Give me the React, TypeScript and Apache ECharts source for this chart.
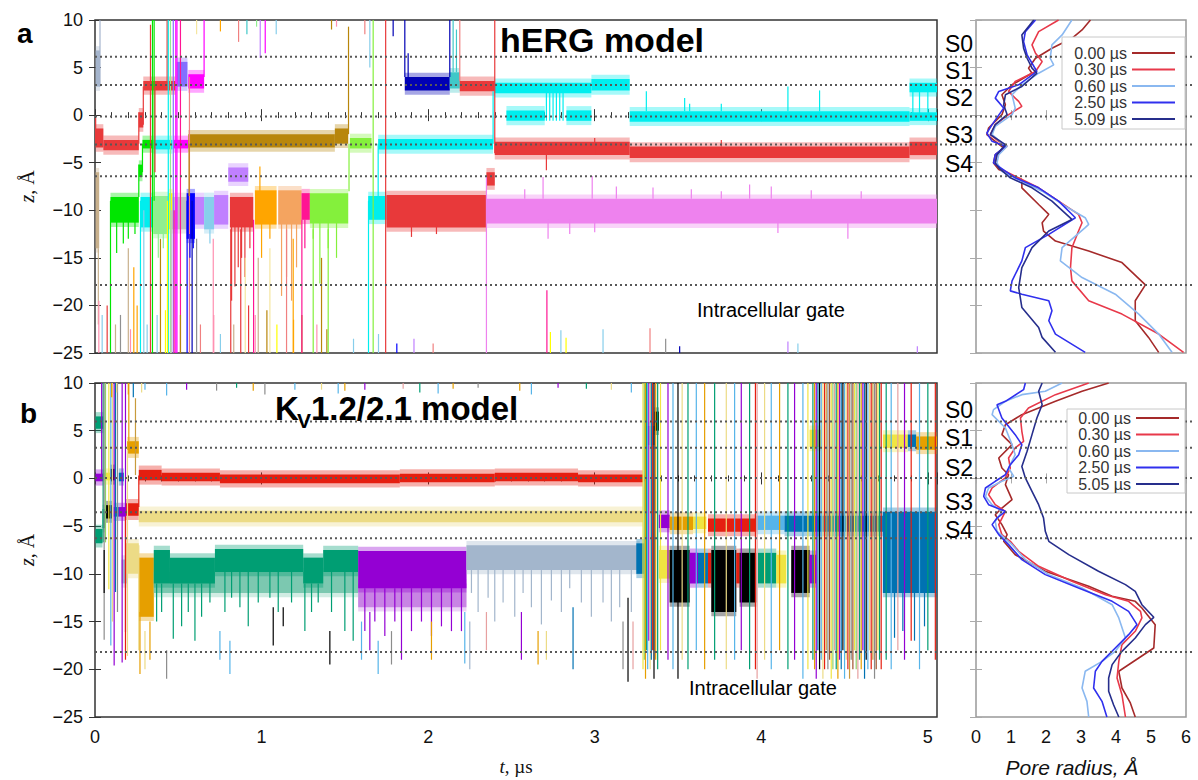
import React, { useEffect, useRef } from 'react';
import * as echarts from 'echarts';

const FONT = '"Liberation Sans", Arial, Helvetica, sans-serif';
const SERIF = '"Liberation Serif", "DejaVu Serif", serif';

// ---------- axes ----------
const T_MAX = 5.055;
const Z_MIN = -25;
const Z_MAX = 10;
const R_MIN = 0;
const R_MAX = 6;

// ---------- site boundaries (dotted lines) ----------
const SITE_LINES_A = [6.14, 3.16, -0.14, -3.08, -6.42, -17.85];
const SITE_LINES_B = [5.97, 3.22, 0.04, -3.55, -6.28, -18.2];
const SITE_NAMES = ['S0', 'S1', 'S2', 'S3', 'S4'];

// ---------- pore radius profiles [r, z] ----------
const LABELS_A = ['0.00 µs', '0.30 µs', '0.60 µs', '2.50 µs', '5.09 µs'];
const LABELS_B = ['0.00 µs', '0.30 µs', '0.60 µs', '2.50 µs', '5.05 µs'];

const PORE_A_000 = [[3.27,10],[3.03,8.95],[2.74,8.08],[2.17,7.03],[1.70,5.98],[1.50,4.94],[1.60,4.41],[1.03,3.19],[0.74,2.14],[0.84,1.09],[0.74,0.05],[0.36,-1.35],[0.31,-2.05],[0.55,-2.75],[0.79,-3.45],[0.55,-4.15],[0.50,-5.02],[0.65,-5.72],[1.31,-6.77],[1.31,-7.64],[1.79,-9.39],[2.08,-10.43],[1.89,-11.31],[1.93,-12.18],[2.27,-13.23],[3.22,-14.28],[4.17,-15.50],[4.84,-17.84],[4.55,-19.51],[4.55,-21.61],[4.93,-23.36],[5.22,-24.93]];
const PORE_A_030 = [[2.36,10],[1.79,8.78],[1.60,7.38],[1.70,6.51],[1.89,5.63],[1.70,4.59],[1.12,3.54],[0.93,2.49],[1.22,1.44],[1.31,0.92],[0.93,0.05],[0.55,-1.00],[0.41,-2.05],[0.65,-2.75],[0.89,-3.27],[0.60,-4.15],[0.55,-5.02],[0.65,-5.54],[1.31,-6.77],[1.79,-7.64],[2.36,-9.04],[2.93,-10.43],[3.03,-11.31],[2.93,-12.18],[2.74,-13.93],[2.70,-16.02],[2.74,-17.42],[3.22,-19.51],[4.17,-20.91],[5.22,-23.01],[5.93,-24.93]];
const PORE_A_060 = [[2.74,10],[2.46,8.43],[2.17,7.38],[2.12,5.98],[2.22,5.28],[1.79,4.41],[1.31,3.19],[1.03,2.14],[1.12,0.74],[1.03,0.05],[0.55,-1.18],[0.46,-2.05],[0.74,-2.92],[0.89,-3.27],[0.65,-4.15],[0.60,-5.02],[0.74,-5.89],[1.31,-6.94],[1.89,-7.99],[2.55,-9.56],[3.12,-10.78],[3.22,-11.48],[3.12,-11.83],[2.46,-13.93],[2.41,-15.32],[3.03,-17.07],[3.98,-18.82],[4.65,-20.91],[5.22,-23.01],[5.60,-24.93]];
const PORE_A_250 = [[1.70,10],[1.41,8.78],[1.36,7.73],[1.46,6.33],[1.74,4.59],[1.22,3.19],[0.65,2.49],[0.55,1.79],[0.79,0.74],[0.46,-1.00],[0.31,-1.88],[0.46,-2.75],[0.84,-3.27],[0.55,-4.15],[0.50,-5.02],[0.84,-5.89],[1.12,-6.59],[1.79,-7.64],[2.36,-9.04],[2.84,-10.78],[2.08,-12.53],[1.41,-13.93],[1.31,-15.32],[1.03,-17.42],[0.98,-18.47],[1.31,-18.82],[2.08,-19.51],[2.17,-20.56],[2.08,-21.61],[2.27,-23.01],[3.12,-24.93]];
const PORE_A_509 = [[1.65,10],[1.31,8.43],[1.36,7.03],[1.46,5.98],[1.60,4.94],[1.74,4.41],[1.31,3.01],[0.84,2.14],[0.79,1.09],[0.89,0.05],[0.55,-1.00],[0.41,-2.05],[0.84,-3.10],[0.60,-4.15],[0.55,-5.02],[0.65,-5.54],[0.98,-6.59],[1.60,-7.64],[2.17,-9.04],[2.74,-10.96],[2.08,-12.18],[1.60,-13.93],[1.31,-16.02],[1.22,-18.12],[1.31,-20.21],[1.79,-22.31],[1.89,-23.36],[2.27,-24.93]];

const PORE_B_000 = [[3.79,10],[3.03,9.13],[2.27,8.08],[1.31,6.68],[0.84,5.63],[0.74,4.59],[1.03,3.54],[0.65,2.14],[0.74,1.09],[0.93,0.39],[0.84,-0.65],[1.03,-2.22],[0.74,-3.10],[0.55,-3.80],[0.74,-4.84],[0.89,-5.89],[0.79,-6.59],[1.12,-7.99],[1.98,-9.73],[3.22,-11.31],[3.89,-12.35],[4.55,-12.88],[4.74,-13.58],[5.12,-15.32],[5.08,-17.77],[4.65,-18.82],[4.08,-20.21],[4.17,-21.96],[4.41,-23.53],[4.55,-25]];
const PORE_B_030 = [[3.22,10],[2.27,8.78],[1.50,7.38],[1.27,6.33],[1.31,4.94],[1.36,3.89],[1.12,3.19],[0.93,2.14],[0.98,1.09],[0.84,0.05],[0.46,-1.00],[0.36,-1.70],[0.55,-2.75],[0.84,-3.45],[0.65,-4.84],[0.74,-5.89],[0.98,-6.59],[1.22,-7.64],[1.79,-9.21],[2.74,-10.78],[3.70,-12.18],[4.36,-12.88],[4.70,-13.93],[4.74,-14.62],[4.55,-16.02],[4.17,-17.42],[4.08,-19.17],[4.03,-20.91],[4.17,-22.66],[4.27,-25]];
const PORE_B_060 = [[2.46,10],[1.98,9.13],[1.31,8.78],[0.84,8.08],[0.50,7.21],[0.46,6.68],[0.84,5.28],[1.03,3.54],[1.12,2.49],[0.93,1.09],[1.08,0.22],[0.74,-0.30],[0.36,-1.00],[0.27,-1.88],[0.46,-2.75],[0.74,-3.45],[0.55,-4.50],[0.60,-5.54],[1.03,-6.94],[1.41,-8.51],[2.08,-10.08],[3.03,-11.48],[3.89,-13.23],[4.08,-14.62],[4.27,-16.72],[3.98,-18.12],[3.60,-19.17],[3.12,-20.21],[3.03,-21.96],[3.17,-23.36],[3.22,-25]];
const PORE_B_250 = [[1.41,10],[1.36,9.30],[0.84,8.08],[0.60,7.73],[0.74,6.33],[1.12,4.59],[1.31,3.54],[1.22,2.49],[0.98,1.44],[0.84,0.39],[0.55,-0.30],[0.27,-1.00],[0.22,-1.88],[0.36,-2.75],[0.84,-3.45],[0.60,-4.15],[0.46,-4.84],[0.65,-5.89],[0.93,-6.94],[1.31,-8.51],[1.98,-10.08],[2.93,-11.48],[3.89,-12.88],[4.36,-13.93],[4.60,-15.32],[4.36,-16.37],[3.98,-17.77],[3.60,-19.17],[3.41,-20.21],[3.36,-21.96],[3.60,-23.36],[3.74,-25]];
const PORE_B_505 = [[1.89,10],[1.79,9.13],[1.89,7.73],[1.74,6.33],[1.60,4.59],[1.46,2.84],[1.31,1.26],[1.41,0.05],[1.60,-1.35],[1.79,-2.75],[1.93,-4.15],[1.98,-5.54],[2.08,-6.59],[2.65,-7.99],[3.50,-9.73],[4.27,-11.13],[4.55,-11.83],[4.74,-13.23],[5.08,-14.55],[4.84,-15.32],[4.55,-16.72],[4.17,-18.12],[3.89,-19.51],[3.79,-20.91],[3.79,-22.31],[3.93,-23.71],[4.08,-25]];

const PORE_COLORS = ['#a52a2a', '#e8394a', '#8ab8f0', '#3030ee', '#262e8c'];

// ---------- colour keys used by the traces ----------
const COLORS: Record<string, string> = {
  red: '#e8393a', cyan: '#00eeee', navy: '#0000b4', violet: '#ee82ee', gold: '#b8860b',
  green: '#00e600', lime: '#84f03c', pgreen: '#90ee90', yellow: '#ffff00', silver: '#c0c0c0',
  blue: '#0000ff', lav: '#c080ff', sky: '#87ceeb', orange: '#ffa500', sandy: '#f4a460',
  dpink: '#ff1493', magenta: '#ff00ff', slate: '#8470ff', tan: '#c8b08c', steel: '#a4b4cc',
  teal: '#40c8c8', salmon: '#f08080', pink: '#ff8fb0', gray: '#909090', lyellow: '#f5e6a0',
  // panel b
  bteal: '#009e73', btealL: '#7cc8b0', borange: '#e69f00', khaki: '#ecdb86', byellow: '#f0e442',
  purple: '#9400d3', purpleL: '#c884e4', gblue: '#a3b6cc', bred: '#e51e10', black: '#000000',
  bblue: '#0072b2', lblue: '#56b4e9', lgreen: '#8fd16a', bgray: '#8c8c8c', bpink: '#e7a0a0',
  brown: '#a0522d', bgold: '#c89b3c',
};

// ---------- panel a: ion z(t) traces ----------
// bands: [colour, t1, t2, zLow, zHigh]
const BANDS_A: [string, number, number, number, number][] = [
  ['steel',0.004,0.030,3.0,6.8], ['tan',0.004,0.025,-14.0,-6.0],
  ['red',0.004,0.050,-3.4,-1.4], ['red',0.050,0.263,-3.7,-2.6],
  ['green',0.093,0.263,-11.3,-8.6], ['red',0.263,0.290,-1.3,0.3],
  ['green',0.263,0.285,-6.5,-5.2], ['green',0.285,0.350,-3.5,-2.6],
  ['cyan',0.273,0.350,-11.8,-8.6], ['red',0.290,0.483,2.6,3.6],
  ['pgreen',0.350,0.440,-12.5,-8.5], ['cyan',0.350,0.465,-3.6,-2.6],
  ['yellow',0.440,0.465,-12.0,-8.2], ['silver',0.465,0.550,-12.0,-8.6],
  ['magenta',0.470,0.560,-3.5,-2.6], ['slate',0.490,0.555,3.0,5.6],
  ['blue',0.550,0.600,-13.0,-8.2], ['magenta',0.560,0.655,2.8,4.3],
  ['gold',0.560,1.440,-3.4,-2.0], ['lav',0.600,0.655,-11.5,-8.6],
  ['sky',0.655,0.715,-12.0,-8.6], ['lav',0.715,0.800,-11.5,-8.4],
  ['lav',0.800,0.920,-7.0,-5.5], ['red',0.810,0.950,-11.8,-8.6],
  ['orange',0.960,1.090,-11.5,-7.9], ['sandy',1.100,1.240,-11.5,-7.9],
  ['dpink',1.240,1.290,-11.0,-8.2], ['lime',1.290,1.520,-11.4,-8.2],
  ['gold',1.440,1.520,-3.0,-1.4], ['lime',1.530,1.660,-3.5,-2.4],
  ['cyan',1.640,1.750,-11.0,-8.5], ['cyan',1.700,2.390,-3.6,-2.5],
  ['red',1.750,2.350,-11.8,-8.4], ['navy',1.860,2.130,2.6,4.0],
  ['teal',2.130,2.190,2.8,4.5], ['red',2.190,2.400,2.5,3.6],
  ['red',2.350,2.400,-7.4,-6.0], ['violet',2.350,5.055,-11.4,-8.8],
  ['cyan',2.400,2.980,2.3,3.4], ['cyan',2.470,2.700,-0.6,0.5], ['cyan',2.830,2.980,-0.6,0.5],
  ['red',2.400,3.210,-4.2,-2.8], ['cyan',2.980,3.210,2.6,3.8],
  ['cyan',3.210,4.890,-0.7,0.4], ['red',3.210,4.890,-4.5,-3.3],
  ['cyan',4.890,5.055,2.4,3.4], ['cyan',4.890,5.055,-0.6,0.3], ['red',4.890,5.055,-4.2,-2.8],
];

// vertical strokes: [colour, t, z1, z2]
const SEGS_A: [string, number, number, number][] = [
  ['red',0.004,-3.0,-0.3], ['steel',0.030,3.0,10], ['tan',0.020,-22,-14],
  ['red',0.263,-3.0,0.3], ['red',0.290,-1.0,3.0], ['green',0.263,-8.6,-5.2], ['green',0.285,-6.0,-3.0],
  ['red',0.333,-25,9.5], ['green',0.345,-25,10], ['green',0.355,-9,10], ['red',0.360,-6,3],
  ['red',0.433,3,10], ['cyan',0.440,-25,10], ['pgreen',0.453,-25,10], ['slate',0.470,-25,10],
  ['magenta',0.485,-25,10], ['magenta',0.492,-25,10], ['dpink',0.513,-25,10], ['salmon',0.567,-25,4],
  ['gold',0.565,-8.5,-3], ['magenta',0.655,4,10], ['gold',1.522,-2,9.3], ['lime',1.525,-8,-3],
  ['cyan',1.642,-25,-9], ['sky',1.650,5,10], ['lime',1.670,-25,10], ['cyan',1.700,-9,-3],
  ['red',1.745,-25,10], ['navy',1.790,8.3,10], ['navy',1.860,4,10], ['navy',1.880,4,6.5],
  ['navy',2.130,4,10], ['teal',2.150,4.5,10], ['teal',2.170,4.5,9], ['salmon',2.190,3.6,10],
  ['violet',2.350,-25,-6.5], ['red',2.400,-4,10], ['cyan',2.390,-3,2.5],
  // short strokes from the top
  ['orange',0.753,8.8,10], ['salmon',0.862,7.7,10], ['teal',0.912,8.5,10], ['pgreen',0.970,9.3,10],
  ['lav',0.992,6.0,10], ['magenta',1.022,6.5,10], ['sky',1.088,8.5,10], ['lyellow',0.610,8.5,10],
  ['gold',1.420,9,10], ['pink',1.450,9.3,10], ['salmon',1.620,8.5,10],
  // excursions out of the bands
  ['green',0.13,-14.5,-11], ['green',0.17,-13.5,-11], ['green',0.20,-13,-11], ['green',0.24,-12.5,-11],
  ['pgreen',0.38,-15,-12], ['pgreen',0.41,-14,-12], ['blue',0.57,-15,-12.5], ['blue',0.59,-14,-12.5],
  ['sky',0.69,-13.5,-12], ['red',0.82,-19.5,-11.5], ['red',0.84,-18,-11.5], ['red',0.86,-16,-11.5],
  ['red',0.88,-15,-11.5], ['red',0.90,-17,-11.5], ['red',0.93,-14,-11.5],
  ['orange',1.00,-15,-11], ['orange',1.05,-13,-11], ['orange',0.99,-5.4,-8],
  ['sandy',1.12,-19,-11], ['sandy',1.15,-17,-11], ['sandy',1.18,-19.5,-11], ['sandy',1.21,-16,-11],
  ['dpink',1.26,-14,-11], ['lime',1.31,-13,-11], ['lime',1.35,-17.7,-11], ['lime',1.40,-14,-11], ['lime',1.45,-15,-11],
  ['red',1.90,-12.8,-11.5], ['red',2.05,-12.5,-11.5],
  ['violet',2.69,-6.5,-8.8], ['violet',2.985,-6.4,-8.8], ['violet',3.13,-7.5,-8.8], ['violet',3.58,-7.8,-8.8],
  ['violet',3.93,-7.3,-8.8], ['violet',4.06,-7.5,-8.8], ['violet',3.76,-8.0,-8.8], ['violet',2.58,-7.8,-8.8],
  ['violet',3.35,-7.6,-8.8], ['violet',4.30,-7.9,-8.8], ['violet',4.60,-8.0,-8.8],
  ['violet',2.72,-13,-11], ['violet',2.85,-12.5,-11], ['violet',4.52,-13,-11], ['violet',3.00,-12.3,-11], ['violet',4.10,-12.4,-11],
  ['cyan',3.31,0.4,2.5], ['cyan',3.54,0.4,1.8], ['cyan',3.57,0.4,1.2], ['cyan',3.76,0.4,1.2], ['cyan',4.16,0.4,3.0], ['cyan',4.35,0.4,2.6],
  ['red',2.71,-5.8,-4], ['red',3.76,-3.3,-2.6], ['red',3.00,-4.2,-2.4],
  ['cyan',2.71,-0.6,2.8], ['cyan',2.73,-0.6,2.8], ['cyan',2.75,-0.6,2.8], ['cyan',2.77,-0.6,2.8],
  ['cyan',2.79,-0.6,2.8], ['cyan',2.81,-0.6,2.8], ['cyan',4.91,-0.4,2.6], ['cyan',4.95,-0.4,2.6], ['cyan',5.00,-0.4,2.6],
  // short strokes from the bottom
  ['pink',0.023,-25,-19.5], ['sky',0.043,-25,-21], ['red',0.073,-25,-20], ['tan',0.123,-25,-22],
  ['gray',0.153,-25,-21], ['pink',0.213,-25,-22.5], ['orange',0.253,-25,-20], ['sky',0.313,-25,-22],
  ['sky',0.373,-25,-21], ['yellow',0.423,-25,-20.5], ['gold',0.513,-25,-21], ['salmon',0.633,-25,-22],
  ['pink',0.713,-25,-21], ['sky',0.753,-25,-23], ['tan',0.833,-25,-22], ['red',0.922,-25,-20],
  ['pink',0.962,-25,-21], ['gold',1.032,-25,-20.5], ['yellow',1.092,-25,-22], ['orange',1.192,-25,-21.5],
  ['gold',1.242,-25,-21], ['pink',1.332,-25,-22], ['gold',1.392,-25,-22.5], ['sky',1.552,-25,-23.5],
  ['sky',1.702,-25,-23], ['blue',1.812,-25,-24], ['lav',1.915,-25,-23.5], ['salmon',2.03,-25,-24],
  ['dpink',2.713,-25,-18.4], ['yellow',2.734,-25,-22.8], ['sky',2.797,-25,-22.6], ['yellow',2.828,-25,-23.4],
  ['sky',3.05,-25,-22.5], ['salmon',3.332,-25,-22.4], ['gray',3.426,-25,-23.5], ['navy',3.51,-25,-24.3],
  ['lav',4.16,-25,-23.8], ['sky',4.22,-25,-24], ['lav',4.937,-25,-24.3],
  // long strokes from the bottom into the -10 Å sites
  ['green',0.093,-25,-9], ['tan',0.200,-25,-14], ['orange',0.233,-25,-16], ['cyan',0.273,-25,-9],
  ['sky',0.293,-25,-10], ['gold',0.393,-25,-13], ['yellow',0.435,-25,-9], ['silver',0.458,-25,-10],
  ['dpink',0.475,-25,-10], ['blue',0.553,-25,-9], ['navy',0.583,-25,-9], ['gray',0.610,-25,-13],
  ['pink',0.710,-25,-13], ['red',0.815,-25,-12], ['red',0.875,-25,-12], ['lyellow',0.902,-25,-15],
  ['dpink',0.952,-25,-11], ['tan',0.980,-25,-15], ['lyellow',1.050,-25,-14], ['salmon',1.150,-25,-12],
  ['orange',1.190,-25,-13], ['dpink',1.242,-25,-11], ['lime',1.310,-25,-12], ['gold',1.360,-25,-15],
  ['lime',1.400,-25,-12],
];

// ---------- panel b: ion z(t) traces ----------
const BANDS_B: [string, number, number, number, number][] = [
  ['bteal',0.003,0.050,5.2,6.5], ['bteal',0.003,0.045,-6.8,-5.3], ['bteal',0.045,0.060,-5.2,-3.2],
  ['purple',0.003,0.050,-0.3,0.5], ['byellow',0.050,0.090,-0.2,0.6], ['black',0.063,0.103,-4.2,-2.8],
  ['black',0.093,0.123,-0.2,1.0], ['bblue',0.113,0.143,-4.0,-3.0], ['bblue',0.143,0.173,-0.3,0.6],
  ['purple',0.143,0.183,-4.0,-3.0], ['gblue',0.160,0.190,-11.0,-8.5], ['bred',0.183,0.263,-3.9,-2.6],
  ['borange',0.193,0.263,2.6,3.9], ['khaki',0.183,0.263,-10.0,-6.8], ['borange',0.263,0.353,-14.5,-8.3],
  ['bred',0.263,0.400,-0.2,0.9], ['bred',0.400,0.750,-0.3,0.6], ['bred',0.750,1.830,-0.5,0.4],
  ['bred',1.830,2.400,-0.4,0.5], ['bred',2.400,2.900,-0.3,0.6], ['bred',2.900,3.290,-0.4,0.4],
  ['khaki',0.263,3.290,-4.6,-3.4],
  ['btealL',0.353,1.580,-12.0,-9.8], ['bteal',0.353,0.450,-11.0,-7.5], ['bteal',0.450,0.720,-11.0,-8.3],
  ['bteal',0.720,1.250,-9.8,-7.4], ['bteal',1.250,1.370,-11.0,-8.3], ['bteal',1.370,1.580,-9.8,-7.5],
  ['purpleL',1.580,2.230,-13.5,-11.0], ['purple',1.580,2.230,-11.5,-7.6], ['gblue',2.230,3.270,-9.6,-7.0],
  ['bblue',3.250,3.300,-10.0,-6.8], ['lblue',3.300,3.360,3.5,5.5], ['black',3.360,3.385,5.0,7.0],
  ['purple',3.385,3.450,-5.2,-3.8], ['borange',3.450,3.590,-5.4,-4.0], ['byellow',3.590,3.670,-5.3,-4.0],
  ['bred',3.680,3.970,-5.6,-4.2], ['lblue',3.970,4.140,-5.4,-3.9], ['bblue',4.140,4.730,-5.6,-3.9],
  ['bblue',4.730,5.055,-12.0,-3.5],
  ['byellow',3.385,3.450,-10.5,-7.5], ['black',3.450,3.570,-13.0,-7.5], ['purple',3.570,3.620,-11.0,-7.8],
  ['bblue',3.620,3.680,-11.0,-7.8], ['bred',3.680,3.700,-11.0,-7.8], ['black',3.700,3.850,-14.0,-7.5],
  ['bred',3.850,3.870,-11.0,-7.8], ['black',3.870,3.970,-13.0,-7.8], ['bteal',3.980,4.090,-11.0,-7.8],
  ['byellow',4.090,4.150,-11.0,-8.0], ['black',4.180,4.290,-12.0,-7.5], ['purple',4.290,4.330,-11.0,-8.0],
  ['byellow',4.290,4.360,3.3,5.1], ['byellow',4.730,4.880,3.2,4.6], ['bblue',4.880,4.930,3.3,4.6],
  ['borange',4.930,5.055,3.0,4.4],
];

const SEGS_B: [string, number, number, number][] = [
  ['bteal',0.049,-6.7,10], ['bgray',0.055,-16.9,10], ['lgreen',0.063,-6.7,10], ['byellow',0.083,-11.6,10],
  ['lblue',0.095,-17.5,10], ['khaki',0.105,-15,10], ['purple',0.115,-19.6,10], ['bblue',0.123,-11.9,10],
  ['bgray',0.135,-14,10], ['purple',0.163,-19.3,10], ['purple',0.183,-16.1,10], ['khaki',0.195,-18.6,3],
  ['borange',0.203,3.9,10], ['bgold',0.243,0.35,8.4], ['black',0.055,-12,-7.5], ['purple',0.040,0.3,10],
  ['bred',0.263,-3.0,0.3], ['khaki',0.263,-18,-7], ['bred',0.183,-19,-4], ['borange',0.27,-20.5,-14],
  ['khaki',0.30,-20,-16], ['borange',0.33,-19,-15],
  // short strokes from the top
  ['borange',0.10,8.5,10], ['khaki',0.13,9,10], ['borange',0.20,8.8,10], ['bblue',0.23,8.5,10],
  ['khaki',0.28,9,10], ['lblue',0.30,9.3,10], ['lblue',0.43,8.7,10], ['purple',0.55,9.3,10],
  ['bgray',0.73,9.2,10], ['bteal',0.85,9.5,10], ['borange',0.95,9.2,10], ['bgray',1.02,8.8,10],
  ['lblue',1.20,9.3,10], ['khaki',1.36,9.3,10], ['lblue',1.46,8.9,10], ['borange',1.50,9.2,10],
  ['purple',1.62,9.3,10], ['bpink',1.85,9.4,10], ['bteal',1.95,9.0,10], ['lblue',2.06,8.9,10],
  ['borange',2.15,9.4,10], ['bgray',2.30,9.5,10], ['borange',2.55,9.2,10], ['lblue',2.62,8.8,10],
  ['purple',2.78,9.5,10], ['bteal',2.95,9.4,10], ['khaki',3.10,9.3,10], ['lblue',3.22,9.0,10],
  // dips of the -9 Å ions
  ['bteal',0.37,-15,-11], ['bteal',0.40,-14,-11], ['bteal',0.47,-16.8,-11], ['bteal',0.52,-15.5,-11],
  ['bteal',0.56,-14,-11], ['bteal',0.60,-17,-11], ['bteal',0.64,-14.5,-11], ['bteal',0.69,-13,-10],
  ['bteal',0.78,-14,-9.8], ['bteal',0.82,-12.5,-9.8], ['bteal',0.87,-13.5,-9.8], ['bteal',0.92,-15.5,-9.8],
  ['bteal',0.98,-13,-9.8], ['bteal',1.05,-12.5,-9.8], ['bteal',1.10,-14,-9.8], ['bteal',1.18,-13,-9.8],
  ['bteal',1.26,-16,-11], ['bteal',1.30,-14,-11], ['bteal',1.34,-13,-11], ['bteal',1.42,-14,-9.8],
  ['bteal',1.50,-16,-9.8], ['bteal',1.55,-17,-9.8],
  ['lblue',0.81,-20.5,-17], ['lblue',0.75,-19,-16], ['bgray',0.43,-21,-18], ['black',1.07,-17.5,-13.5],
  ['black',1.13,-15.5,-13.5], ['black',1.41,-19.5,-16], ['lblue',1.60,-19,-15], ['lblue',1.70,-20.5,-17],
  ['bgray',1.78,-19.5,-16], ['purple',1.65,-18,-14],
  ['purple',1.62,-16,-11.5], ['purple',1.68,-15,-11.5], ['purple',1.74,-16.5,-11.5], ['purple',1.80,-15,-11.5],
  ['purple',1.84,-19,-11.5], ['purple',1.90,-16,-11.5], ['purple',1.96,-15,-11.5], ['purple',2.02,-16.5,-11.5],
  ['purple',2.08,-15.5,-11.5], ['purple',2.14,-16,-11.5], ['purple',2.20,-16,-11.5],
  ['borange',2.02,-19,-15], ['lblue',2.22,-19.4,-14], ['gblue',2.25,-20,-15], ['bpink',2.35,-18,-14],
  ['purple',2.56,-19,-14], ['borange',2.66,-19.5,-16], ['khaki',2.71,-19,-16], ['bblue',2.87,-20,-13.5],
  ['bgray',3.17,-20,-15], ['black',3.20,-21.3,-12.5], ['bpink',3.23,-20,-15],
  ['gblue',2.26,-12,-9.6], ['gblue',2.30,-14,-9.6], ['gblue',2.36,-12.5,-9.6], ['gblue',2.40,-15,-9.6],
  ['gblue',2.45,-13,-9.6], ['gblue',2.52,-14.5,-9.6], ['gblue',2.57,-12,-9.6], ['gblue',2.62,-13.5,-9.6],
  ['gblue',2.68,-15.3,-9.6], ['gblue',2.74,-12.8,-9.6], ['gblue',2.80,-14,-9.6], ['gblue',2.85,-11.5,-9.6],
  ['gblue',2.92,-13,-9.6], ['gblue',2.98,-14.5,-9.6], ['gblue',3.05,-13,-9.6], ['gblue',3.10,-15,-9.6],
  ['gblue',3.15,-13.5,-9.6], ['gblue',3.22,-14,-9.6],
  // crossings after 3.3 µs
  ['byellow',3.290,-20,10], ['lgreen',3.298,-19,10], ['borange',3.305,-21,10], ['bteal',3.312,-18,10],
  ['lblue',3.318,-20,10], ['purple',3.325,-17,10], ['khaki',3.333,-20,10], ['bblue',3.340,-19,10],
  ['bred',3.348,-18,10], ['black',3.356,-21,10], ['borange',3.366,-19,10], ['bteal',3.378,-20,10],
  ['byellow',3.395,-18,10], ['purple',3.440,-19,10], ['lblue',3.470,-20,10], ['black',3.500,-21,10],
  ['khaki',3.525,-19,10], ['bteal',3.560,-20,10], ['lblue',3.610,-18,10], ['borange',3.660,-20,10],
  ['bteal',3.720,-19,10], ['khaki',3.790,-20,10], ['lblue',3.840,-19,10], ['purple',3.880,-18,10],
  ['bteal',3.930,-20,10], ['bred',3.965,-20,10], ['bpink',3.975,-21,10], ['khaki',4.020,-19,10],
  ['lblue',4.060,-20,10], ['borange',4.110,-18,10], ['bteal',4.160,-20,10], ['purple',4.200,-19,10],
  ['lblue',4.250,-21,10], ['byellow',4.280,-20,10],
  ['bteal',4.31,-19,10], ['borange',4.32,-20,10], ['purple',4.33,-21,10], ['bblue',4.34,-18,10],
  ['black',4.35,-20,10], ['lblue',4.36,-19,10], ['khaki',4.37,-21,10], ['bred',4.38,-20,10],
  ['bgold',4.39,-18,10], ['bgray',4.40,-20,10], ['brown',4.41,-19,10], ['byellow',4.42,-21,10],
  ['lgreen',4.43,-20,10], ['bpink',4.44,-18,10], ['bteal',4.45,-20,10], ['borange',4.46,-21,10],
  ['purple',4.47,-19,10], ['bblue',4.48,-20,10], ['black',4.49,-18,10], ['lblue',4.50,-21,10],
  ['khaki',4.51,-19,10], ['bred',4.52,-20,10], ['bgold',4.53,-21,10], ['bgray',4.54,-19,10],
  ['brown',4.55,-20,10], ['byellow',4.56,-18,10], ['lgreen',4.57,-20,10], ['bpink',4.58,-21,10],
  ['bteal',4.59,-19,10], ['borange',4.60,-20,10], ['purple',4.61,-18,10], ['bblue',4.62,-21,10],
  ['black',4.63,-19,10], ['lblue',4.64,-20,10], ['khaki',4.65,-18,10], ['bred',4.66,-20,10],
  ['bgold',4.67,-19,10], ['bgray',4.68,-21,10], ['brown',4.69,-20,10], ['byellow',4.70,-18,10],
  ['bteal',4.71,-19,10], ['bred',4.72,-20,10],
  ['bteal',4.75,-19,10], ['lblue',4.78,-20,10], ['bpink',4.82,-18,10], ['purple',4.86,-19,10],
  ['bred',4.90,-17,10], ['lblue',4.95,-20,10], ['bteal',5.00,-18,10], ['bred',5.045,-19,10],
  ['bblue',4.80,-16.7,-12], ['bblue',4.85,-16,-12], ['bblue',4.92,-17,-12], ['bblue',4.98,-15.5,-12],
];

const minus = (v: number) => (v < 0 ? '\u2212' + Math.abs(v) : String(v));

// fuzzy fringe drawn round each band (Å), to mimic the thermal noise
const FRINGE = 0.45;

function bandSeries(bands: [string, number, number, number, number][], ai: number) {
  return {
    type: 'custom', xAxisIndex: ai, yAxisIndex: ai, clip: true, silent: true,
    data: bands.map((b) => [b[1], b[3], b[2], b[4]]),
    renderItem: (params: any, api: any) => {
      const b = bands[params.dataIndex];
      const p1 = api.coord([b[1], b[4]]);
      const p2 = api.coord([b[2], b[3]]);
      const q1 = api.coord([b[1], b[4] + FRINGE]);
      const q2 = api.coord([b[2], b[3] - FRINGE]);
      const w = Math.max(p2[0] - p1[0], 1);
      return {
        type: 'group',
        children: [
          { type: 'rect', shape: { x: q1[0], y: q1[1], width: w, height: q2[1] - q1[1] },
            style: { fill: COLORS[b[0]], opacity: 0.35 } },
          { type: 'rect', shape: { x: p1[0], y: p1[1], width: w, height: p2[1] - p1[1] },
            style: { fill: COLORS[b[0]] } },
        ],
      };
    },
  };
}

function segSeries(segs: [string, number, number, number][], ai: number) {
  return {
    type: 'custom', xAxisIndex: ai, yAxisIndex: ai, clip: true, silent: true,
    data: segs.map((s) => [s[1], s[2], s[3]]),
    renderItem: (params: any, api: any) => {
      const s = segs[params.dataIndex];
      const p1 = api.coord([s[1], s[2]]);
      const p2 = api.coord([s[1], s[3]]);
      return {
        type: 'line',
        shape: { x1: p1[0], y1: p1[1], x2: p2[0], y2: p2[1] },
        style: { stroke: COLORS[s[0]], lineWidth: 1.2 },
      };
    },
  };
}

function dottedSeries(lines: number[], ai: number) {
  return {
    type: 'custom', xAxisIndex: ai, yAxisIndex: ai, silent: true, z: 5,
    data: lines.map((z) => [0, z]),
    renderItem: (params: any, api: any) => {
      const z = lines[params.dataIndex];
      const p1 = api.coord([0, z]);
      const p2 = api.coord([1, z]);
      return {
        type: 'line',
        shape: { x1: p1[0], y1: p1[1], x2: p2[0], y2: p2[1] },
        style: { stroke: '#585858', lineWidth: 2, lineDash: [2, 3] },
      };
    },
  };
}

function poreSeries(name: string, data: number[][], color: string, ai: number) {
  return {
    type: 'line', name, data, xAxisIndex: ai, yAxisIndex: ai, showSymbol: false, symbol: 'none',
    color, lineStyle: { color, width: 1.6 }, silent: true, z: 3,
  };
}

const tickStyle = (c: string) => ({ color: c, width: 1 });

function tX(grid: number, position: string, labels: boolean, name?: string) {
  return {
    type: 'value', gridIndex: grid, position, min: 0, max: T_MAX, interval: 1,
    axisLine: { show: false }, splitLine: { show: false },
    axisTick: { show: true, inside: true, length: 6, lineStyle: tickStyle('#333') },
    minorTick: { show: true, splitNumber: 10, length: 3, lineStyle: tickStyle('#333') },
    axisLabel: { show: labels, margin: 11, fontSize: 18, color: '#111', fontFamily: FONT,
      formatter: (v: number) => (Number.isInteger(v) ? String(v) : '') },
    name: name || '', nameLocation: 'middle', nameGap: 40,
    nameTextStyle: { fontSize: 19, color: '#111', fontFamily: SERIF,
      rich: { i: { fontStyle: 'italic', fontSize: 19, fontFamily: SERIF, color: '#111' } } },
  };
}

function rX(grid: number, position: string, labels: boolean, name?: string) {
  return {
    type: 'value', gridIndex: grid, position, min: R_MIN, max: R_MAX, interval: 1,
    axisLine: { show: false }, splitLine: { show: false },
    axisTick: { show: true, inside: true, length: 5, lineStyle: tickStyle('#aaa') },
    axisLabel: { show: labels, margin: 11, fontSize: 18, color: '#111', fontFamily: FONT },
    name: name || '', nameLocation: 'middle', nameGap: 40,
    nameTextStyle: { fontSize: 21, color: '#111', fontFamily: FONT, fontStyle: 'italic', padding: [0, 18, 0, 0] },
  };
}

function zY(grid: number, position: string, labels: boolean, tickColor: string, name?: string) {
  return {
    type: 'value', gridIndex: grid, position, min: Z_MIN, max: Z_MAX, interval: 5,
    axisLine: { show: false }, splitLine: { show: false },
    axisTick: { show: true, inside: true, length: 6, lineStyle: tickStyle(tickColor) },
    axisLabel: { show: labels, margin: 12, fontSize: 18, color: '#111', fontFamily: FONT, formatter: minus },
    name: name || '', nameLocation: 'middle', nameGap: 58,
    nameTextStyle: { fontSize: 20, color: '#111', fontFamily: SERIF,
      rich: { i: { fontStyle: 'italic', fontSize: 20, fontFamily: SERIF, color: '#111' } } },
  };
}

function hidden(grid: number, isY: boolean) {
  return isY
    ? { type: 'value', gridIndex: grid, min: Z_MIN, max: Z_MAX, show: false }
    : { type: 'value', gridIndex: grid, min: 0, max: 1, show: false };
}

function legendFor(data: string[], left: number, top: number, pad: number[]) {
  return {
    data, left, top, orient: 'vertical', align: 'right', icon: 'rect', itemWidth: 43, itemHeight: 2,
    itemGap: 0.5, selectedMode: false, z: 10,
    textStyle: { fontSize: 16, color: '#333', fontFamily: FONT, lineHeight: 16, width: 57 },
    backgroundColor: '#ffffff', borderColor: '#c8c8c8', borderWidth: 1, padding: pad,
  };
}

function textEl(text: string, x: number, y: number, size: number, bold: boolean) {
  return {
    type: 'text', x, y, z: 20, silent: true,
    style: { text, fontSize: size, fontWeight: bold ? 'bold' : 'normal', fontFamily: FONT,
      fill: '#000', align: 'left', verticalAlign: 'middle' },
  };
}

const S_LABEL_Y_A = [43.5, 70.7, 98, 135, 164];
const S_LABEL_Y_B = [410, 438, 468, 502, 530];

export default function App() {
  const ref = useRef<HTMLDivElement>(null);
  useEffect(() => {
    if (!ref.current) return;
    const chart = echarts.init(ref.current, undefined, { renderer: 'svg' });
    const leftBorder = { show: true, borderColor: '#333', borderWidth: 1.5, backgroundColor: 'transparent' };
    const rightBorder = { show: true, borderColor: '#999', borderWidth: 1.5, backgroundColor: 'transparent' };
    const option: any = {
      animation: false,
      backgroundColor: '#ffffff',
      textStyle: { fontFamily: FONT },
      grid: [
        { left: 95, top: 20, width: 842, height: 333, ...leftBorder },
        { left: 976, top: 20, width: 210, height: 333, ...rightBorder },
        { left: 95, top: 383, width: 842, height: 334, ...leftBorder },
        { left: 976, top: 383, width: 210, height: 334, ...rightBorder },
        { left: 95, top: 20, width: 1099, height: 333, show: false },
        { left: 95, top: 383, width: 1099, height: 334, show: false },
      ],
      xAxis: [
        tX(0, 'bottom', false), tX(0, 'top', false),
        rX(1, 'bottom', false), rX(1, 'top', false),
        tX(2, 'bottom', true, '{i|t}, µs'), tX(2, 'top', false),
        rX(3, 'bottom', true, 'Pore radius, Å'), rX(3, 'top', false),
        hidden(4, false), hidden(5, false),
      ],
      yAxis: [
        zY(0, 'left', true, '#333', '{i|z}, Å'), zY(0, 'right', false, '#333'),
        zY(1, 'left', false, '#aaa'), zY(1, 'right', false, '#aaa'),
        zY(2, 'left', true, '#333', '{i|z}, Å'), zY(2, 'right', false, '#333'),
        zY(3, 'left', false, '#aaa'), zY(3, 'right', false, '#aaa'),
        hidden(4, true), hidden(5, true),
      ],
      legend: [
        legendFor(LABELS_A, 1062, 37, [8, 10, 2, 8]),
        legendFor(LABELS_B, 1067, 409, [1, 6, 1, 7]),
      ],
      series: [
        bandSeries(BANDS_A, 0), segSeries(SEGS_A, 0),
        poreSeries(LABELS_A[0], PORE_A_000, PORE_COLORS[0], 2),
        poreSeries(LABELS_A[1], PORE_A_030, PORE_COLORS[1], 2),
        poreSeries(LABELS_A[2], PORE_A_060, PORE_COLORS[2], 2),
        poreSeries(LABELS_A[3], PORE_A_250, PORE_COLORS[3], 2),
        poreSeries(LABELS_A[4], PORE_A_509, PORE_COLORS[4], 2),
        bandSeries(BANDS_B, 4), segSeries(SEGS_B, 4),
        poreSeries(LABELS_B[0], PORE_B_000, PORE_COLORS[0], 6),
        poreSeries(LABELS_B[1], PORE_B_030, PORE_COLORS[1], 6),
        poreSeries(LABELS_B[2], PORE_B_060, PORE_COLORS[2], 6),
        poreSeries(LABELS_B[3], PORE_B_250, PORE_COLORS[3], 6),
        poreSeries(LABELS_B[4], PORE_B_505, PORE_COLORS[4], 6),
        dottedSeries(SITE_LINES_A, 8), dottedSeries(SITE_LINES_B, 9),
      ],
      graphic: [
        textEl('a', 17, 33, 28, true),
        textEl('b', 20, 413, 28, true),
        textEl('hERG model', 500, 40, 34, true),
        textEl('K', 275, 408, 33, true),
        textEl('V', 297, 420, 21, true),
        textEl('1.2/2.1 model', 311, 408, 33, true),
        textEl('Intracellular gate', 697, 310, 20, false),
        textEl('Intracellular gate', 689, 688, 20, false),
        ...SITE_NAMES.map((s, i) => textEl(s, 945, S_LABEL_Y_A[i], 23, false)),
        ...SITE_NAMES.map((s, i) => textEl(s, 945, S_LABEL_Y_B[i], 23, false)),
      ],
    };
    chart.setOption(option);
    return () => chart.dispose();
  }, []);
  return (
    <div
      ref={ref}
      style={{ position: 'fixed', left: 0, top: 0, width: 1198, height: 780, background: '#fff' }}
    />
  );
}
